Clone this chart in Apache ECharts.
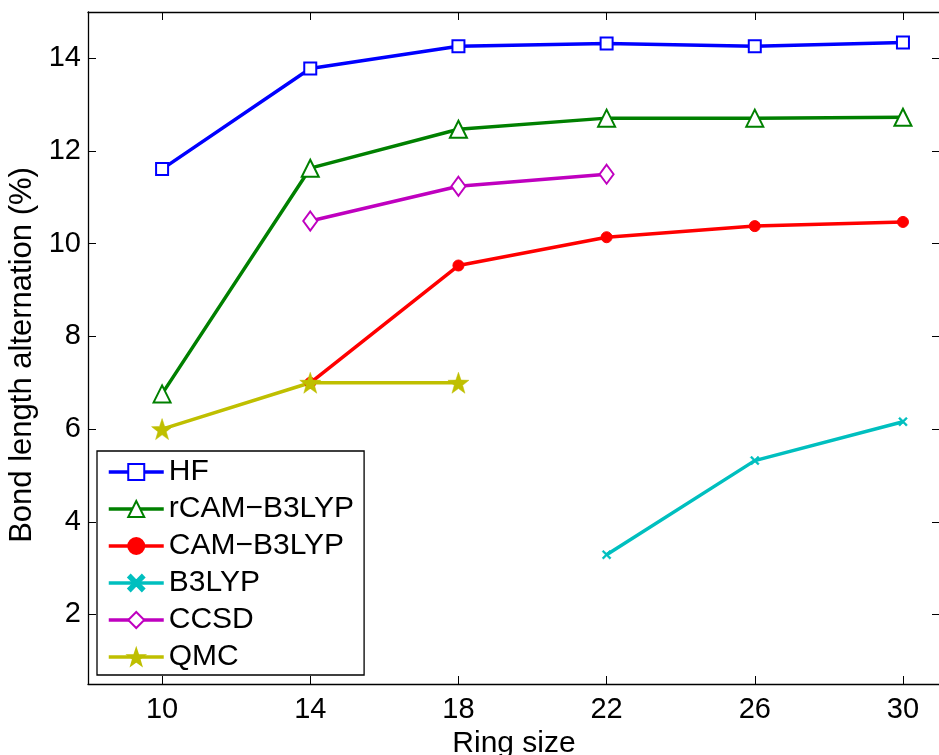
<!DOCTYPE html>
<html>
<head>
<meta charset="utf-8">
<script src="https://cdn.jsdelivr.net/npm/echarts@6/dist/echarts.min.js"></script>
<style>
  html, body { margin: 0; padding: 0; background: #fff; }
  #chart { width: 939px; height: 755px; }
</style>
</head>
<body>
<div id="chart"></div>
<script>
// Bond length alternation (%) versus ring size for several methods
const ringSizes = [10, 14, 18, 22, 26, 30];
const hf    = [11.61, 13.78, 14.26, 14.32, 14.26, 14.34];
const rcam  = [6.76, 11.63, 12.47, 12.71, 12.71, 12.73];
const cam   = [null, 7.0, 9.53, 10.14, 10.38, 10.47];
const b3lyp = [null, null, null, 3.29, 5.32, 6.16];
const ccsd  = [null, 10.49, 11.24, 11.50, null, null];
const qmc   = [6.0, 7.0, 7.0, null, null, null];
const xTicks = [10, 14, 18, 22, 26, 30];
const yTicks = [2, 4, 6, 8, 10, 12, 14];

const FONT = 'Liberation Sans, Arial, sans-serif';
const FS = 29;

function pairs(vals) {
  return ringSizes.map((x, i) => [x, vals[i]]).filter(p => p[1] !== null);
}

const STAR = 'path://M0,-10L2.35,-3.24L9.51,-3.09L3.8,1.24L5.88,8.09L0,4L-5.88,8.09L-3.8,1.24L-9.51,-3.09L-2.35,-3.24Z';
const CROSS = 'path://M0,1.5L1.5,0L5,3.5L8.5,0L10,1.5L6.5,5L10,8.5L8.5,10L5,6.5L1.5,10L0,8.5L3.5,5Z';

function lineSeries(name, vals, color, symbol, size, bw) {
  return {
    name: name,
    type: 'line',
    data: pairs(vals),
    symbol: symbol,
    symbolSize: size,
    showAllSymbol: true,
    lineStyle: { color: color, width: 3.5 },
    itemStyle: { color: color, borderColor: color, borderWidth: bw },
    emphasis: { disabled: true },
    animation: false
  };
}

const tickStyle = { show: true, inside: true, length: 8, lineStyle: { color: '#000', width: 1 } };
const lineAxis = { show: true, onZero: false, lineStyle: { color: '#000', width: 1.3 } };

const option = {
  backgroundColor: '#fff',
  animation: false,
  grid: { left: 88, right: -1, top: 12, bottom: 71, containLabel: false, outerBoundsMode: 'none' },
  xAxis: [
    {
      type: 'value', min: 8, max: 31, position: 'bottom',
      axisLine: lineAxis,
      axisTick: Object.assign({ customValues: xTicks }, tickStyle),
      axisLabel: { customValues: xTicks, fontSize: FS, color: '#000', fontFamily: FONT, margin: 11 },
      splitLine: { show: false },
      name: 'Ring size', nameLocation: 'middle', nameGap: 45,
      nameTextStyle: { fontSize: 30, color: '#000', fontFamily: FONT }
    },
    {
      type: 'value', min: 8, max: 31, position: 'top',
      axisLine: lineAxis,
      axisTick: Object.assign({ customValues: xTicks }, tickStyle),
      axisLabel: { show: false },
      splitLine: { show: false }
    }
  ],
  yAxis: [
    {
      type: 'value', min: 0.5, max: 15, position: 'left',
      axisLine: lineAxis,
      axisTick: Object.assign({ customValues: yTicks }, tickStyle),
      axisLabel: { customValues: yTicks, fontSize: FS, color: '#000', fontFamily: FONT, margin: 7 },
      splitLine: { show: false },
      name: 'Bond length alternation (%)', nameLocation: 'middle', nameGap: 48,
      nameTextStyle: { fontSize: 31, color: '#000', fontFamily: FONT, padding: [0, 14, 0, 0] }
    },
    {
      type: 'value', min: 0.5, max: 15, position: 'right',
      axisLine: lineAxis,
      axisTick: Object.assign({ customValues: yTicks }, tickStyle),
      axisLabel: { show: false },
      splitLine: { show: false }
    }
  ],
  legend: {
    orient: 'vertical',
    left: 97, top: 451,
    backgroundColor: '#fff',
    borderColor: '#000', borderWidth: 1.3,
    padding: [6, 10, 3, 10],
    itemWidth: 55, itemHeight: 20, itemGap: 7,
    lineStyle: { width: 3.5 },
    textStyle: { fontSize: 30, color: '#000', fontFamily: FONT, lineHeight: 30 },
    selectedMode: false,
    data: ['HF', 'rCAM\u2212B3LYP', 'CAM\u2212B3LYP', 'B3LYP', 'CCSD', 'QMC']
  },
  series: [
    lineSeries('HF', hf, '#0000ff', 'emptyRect', 12, 3),
    lineSeries('rCAM\u2212B3LYP', rcam, '#008000', 'emptyTriangle', 17, 3),
    lineSeries('CAM\u2212B3LYP', cam, '#ff0000', 'circle', 11, 1),
    lineSeries('B3LYP', b3lyp, '#00bfbf', CROSS, 9, 0.5),
    lineSeries('CCSD', ccsd, '#bf00bf', 'emptyDiamond', [14, 19], 3),
    lineSeries('QMC', qmc, '#bfbf00', STAR, 21, 0.5)
  ]
};

const chart = echarts.init(document.getElementById('chart'), null, { renderer: 'canvas' });
chart.setOption(option);
</script>
</body>
</html>
